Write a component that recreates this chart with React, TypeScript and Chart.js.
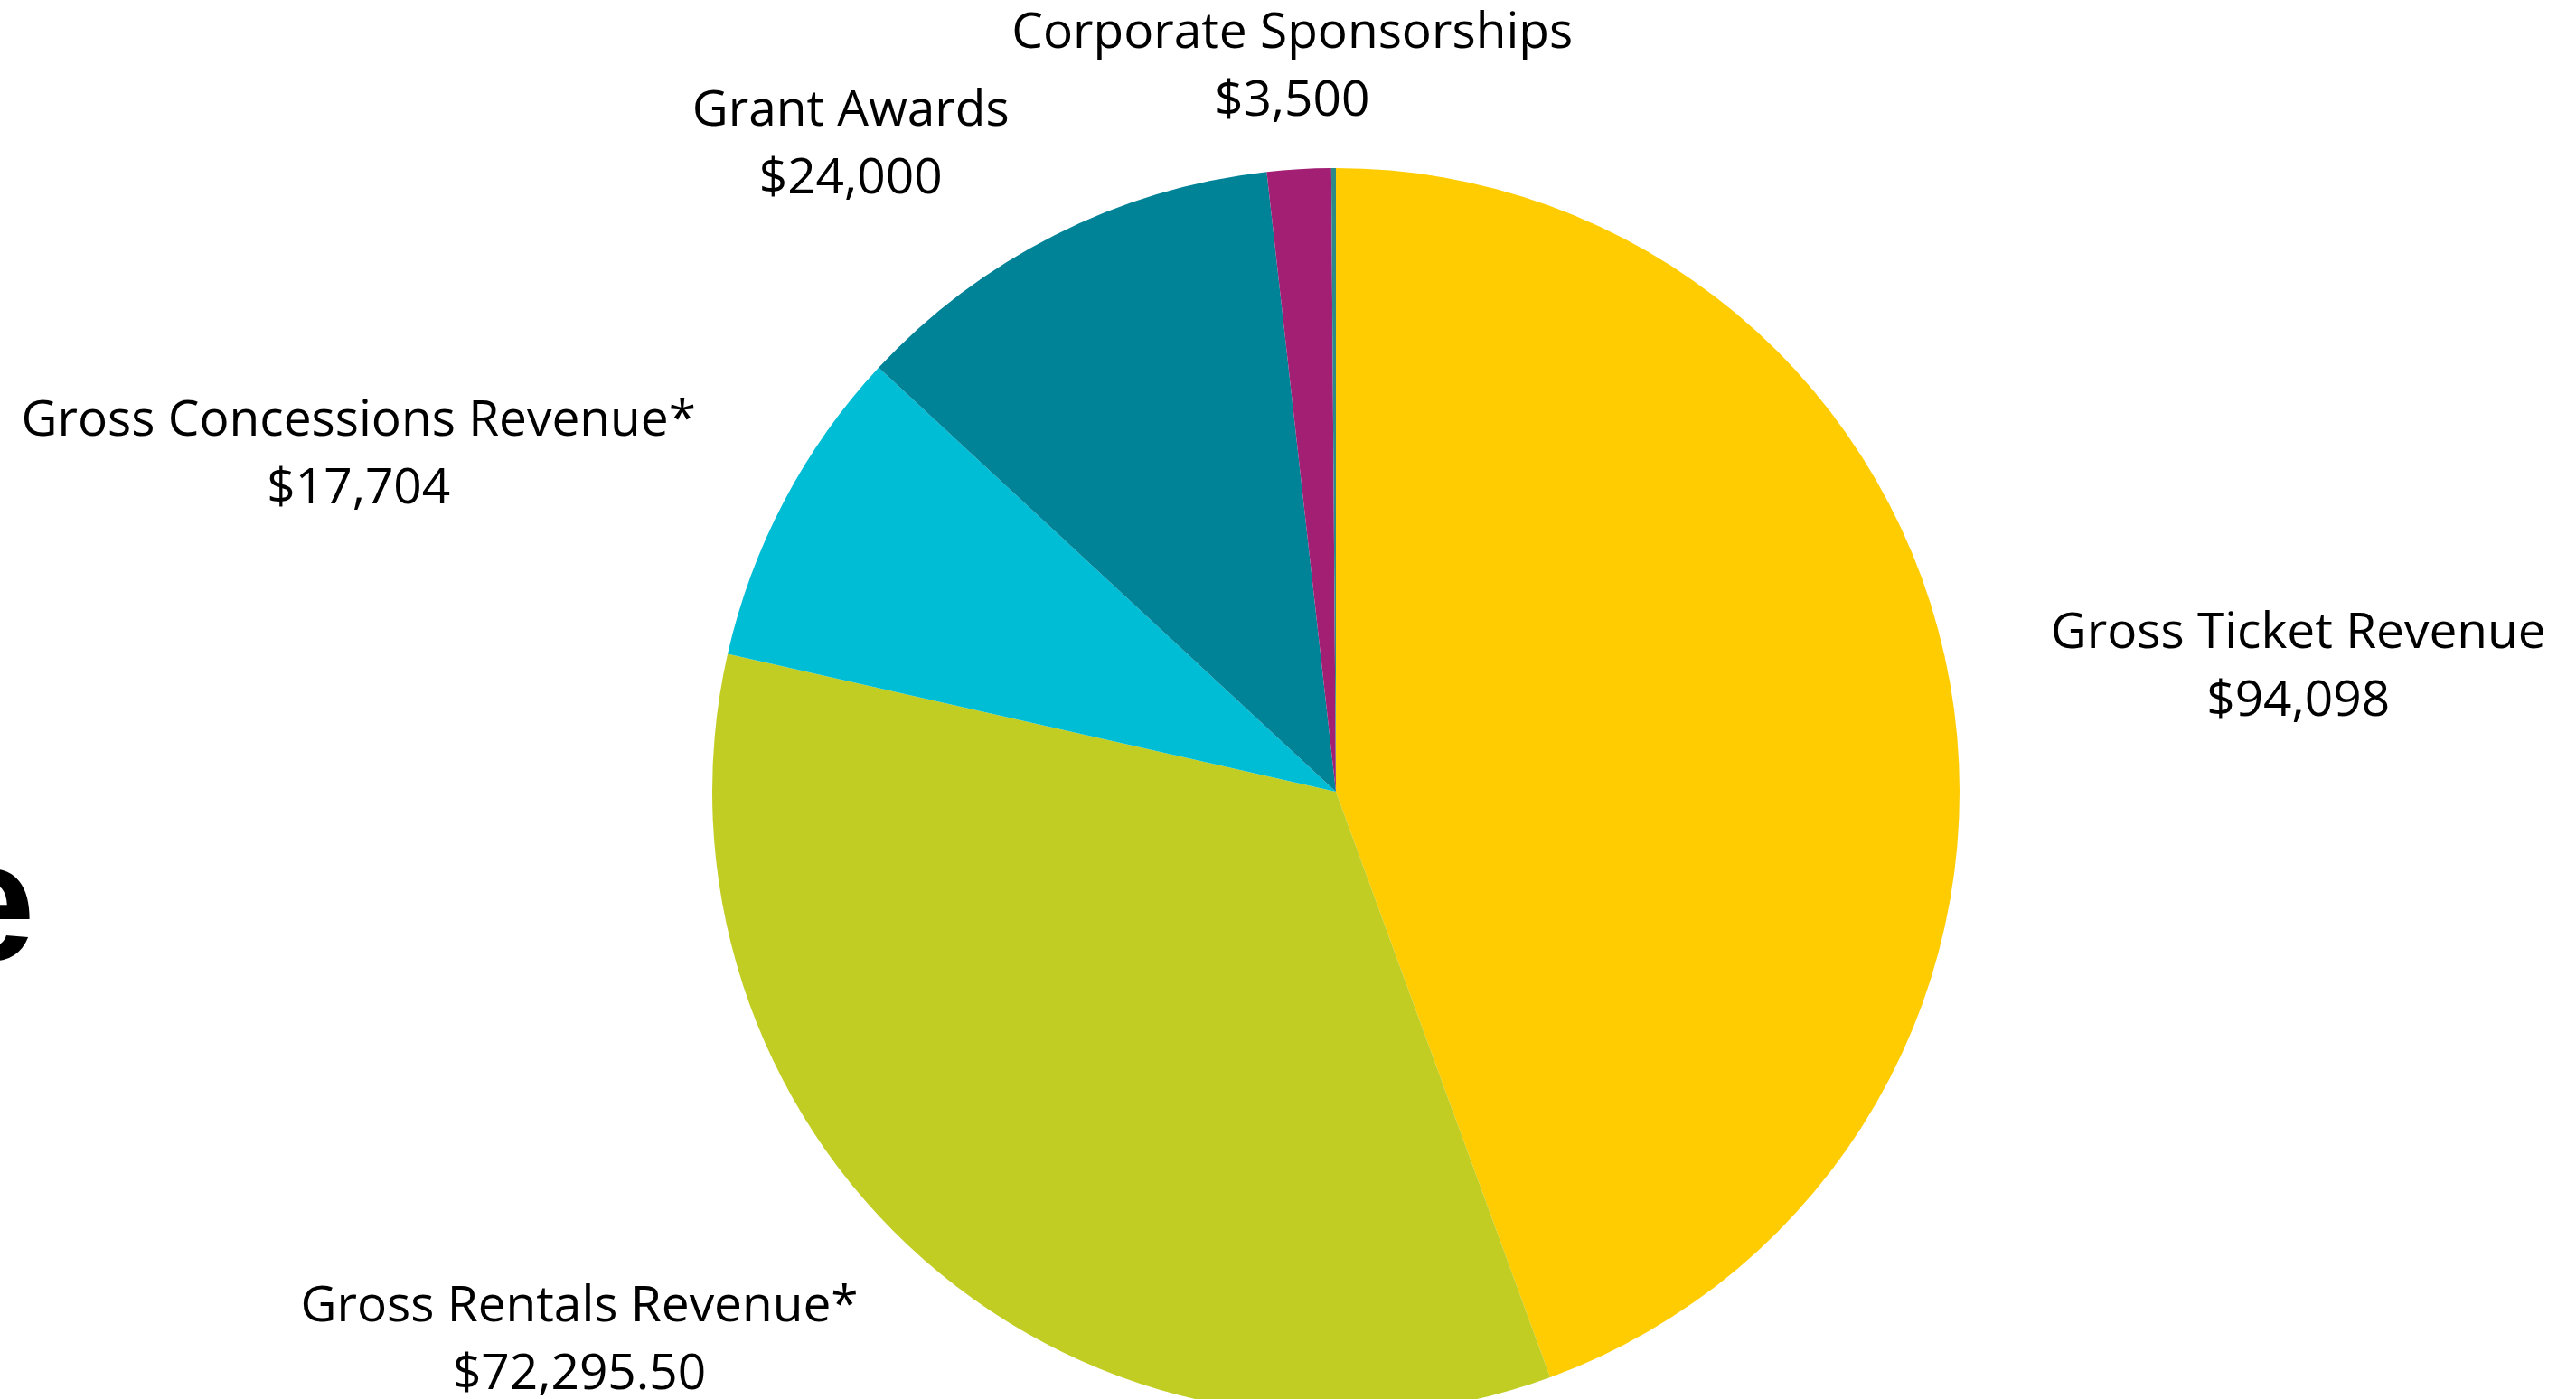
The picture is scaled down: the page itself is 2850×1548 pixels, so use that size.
import React, { useEffect, useRef } from "react";
import { Chart, registerables } from "chart.js";

Chart.register(...registerables);

// ---- Data ----
const categories = [
  "Gross Ticket Revenue",
  "Gross Rentals Revenue*",
  "Gross Concessions Revenue*",
  "Grant Awards",
  "Corporate Sponsorships",
  "Other",
];
const values = [94098, 72295.5, 17704, 24000, 3500, 250];
const valueLabels = ["$94,098", "$72,295.50", "$17,704", "$24,000", "$3,500", ""];
const sliceColors = ["#FECC00", "#C1CD23", "#00BDD6", "#008297", "#A21F73", "#2E8A86"];

// ---- Label placement (relative to pie centre, in units of radius) ----
const labelPlacement = [
  { dx: 1.543, dy: -0.23 },
  { dx: -1.213, dy: 0.849 },
  { dx: -1.567, dy: -0.571 },
  { dx: -0.778, dy: -1.068 },
  { dx: -0.07, dy: -1.193 },
  null,
];

const W = 2850;
const H = 1548;
const CANVAS_H = 1600;

const labelPlugin = {
  id: "outerLabels",
  afterDraw(chart: any) {
    const ctx = chart.ctx as CanvasRenderingContext2D;
    const meta = chart.getDatasetMeta(0);
    const first = meta.data[0] as any;
    if (!first) return;
    const cx = first.x;
    const cy = first.y;
    const r = first.outerRadius;
    ctx.save();
    ctx.fillStyle = "#000000";
    ctx.textAlign = "center";
    ctx.textBaseline = "alphabetic";
    ctx.font = '55px "Open Sans"';
    const lineGap = 75;
    categories.forEach((name, i) => {
      const p = labelPlacement[i];
      if (!p) return;
      const x = cx + p.dx * r;
      const y = cy + p.dy * r;
      ctx.fillText(name, x, y);
      ctx.fillText(valueLabels[i], x, y + lineGap);
    });
    // cropped slide title at the far left
    ctx.textAlign = "right";
    ctx.font = 'bold 187px "Liberation Sans", Arial, sans-serif';
    ctx.fillText("Revenue", 39, 1062);
    ctx.restore();
  },
};

export default function App() {
  const canvasRef = useRef<HTMLCanvasElement | null>(null);

  useEffect(() => {
    const canvas = canvasRef.current;
    if (!canvas) return;
    const chart = new Chart(canvas, {
      type: "pie",
      data: {
        labels: categories,
        datasets: [
          {
            data: values,
            backgroundColor: sliceColors,
            borderWidth: 0,
          },
        ],
      },
      options: {
        responsive: false,
        animation: false,
        devicePixelRatio: 1,
        layout: {
          padding: { left: 788, right: W - 2168, top: 186, bottom: CANVAS_H - 1566 },
        },
        plugins: {
          legend: { display: false },
          tooltip: { enabled: false },
        },
      },
      plugins: [labelPlugin],
    });
    return () => chart.destroy();
  }, []);

  return (
    <div
      style={{
        position: "fixed",
        left: 0,
        top: 0,
        width: W,
        height: H,
        overflow: "hidden",
        background: "#ffffff",
      }}
    >
      <canvas
        ref={canvasRef}
        width={W}
        height={CANVAS_H}
        style={{ display: "block", width: W, height: CANVAS_H }}
      />
    </div>
  );
}
